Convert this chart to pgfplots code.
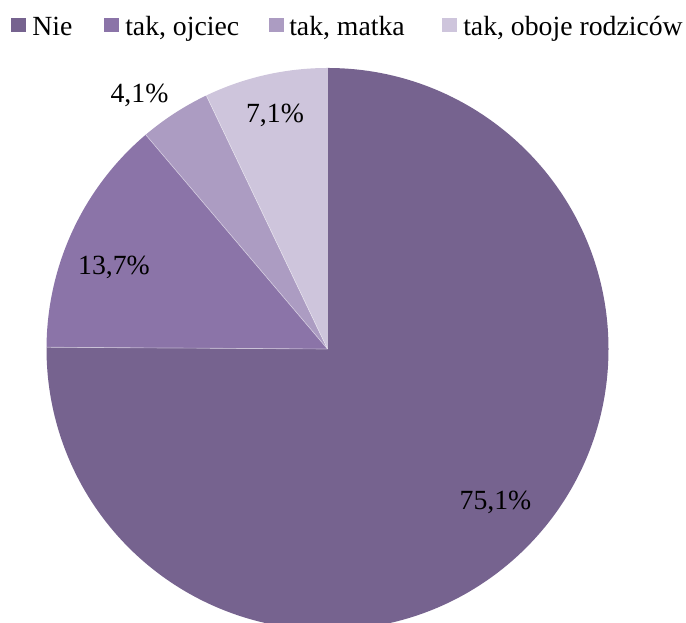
\documentclass[border=0pt]{standalone}
\usepackage{fontspec}
\setmainfont{Liberation Serif}
\usepackage{pgfplots}
\pgfplotsset{compat=1.18}

\definecolor{cnie}{HTML}{76638F}
\definecolor{cojc}{HTML}{8B74A8}
\definecolor{cmat}{HTML}{AC9CC2}
\definecolor{cobo}{HTML}{CEC5DC}

% shares in percent: Nie 75.1, ojciec 13.7, matka 4.1, oboje 7.1
% one axis unit = one pixel of the reference (0.75pt)
\def\R{210.75pt}

\begin{document}
\begin{tikzpicture}
\fontsize{20.8}{25}\selectfont
\begin{axis}[
    name=ax,
    scale only axis,
    width=514.5pt, height=467.25pt,
    xmin=0, xmax=686, ymin=0, ymax=623,
    hide axis,
    clip=true,
  ]
% slices, clockwise from the top
\fill[cnie] (axis cs:327.5,274) -- ++(90:\R)
    arc[start angle=90, delta angle={-3.6*75.1}, radius=\R] -- cycle;
\fill[cojc] (axis cs:327.5,274) -- ++({90-3.6*75.1}:\R)
    arc[start angle={90-3.6*75.1}, delta angle={-3.6*13.7}, radius=\R] -- cycle;
\fill[cmat] (axis cs:327.5,274) -- ++({90-3.6*88.8}:\R)
    arc[start angle={90-3.6*88.8}, delta angle={-3.6*4.1}, radius=\R] -- cycle;
\fill[cobo] (axis cs:327.5,274) -- ++({90-3.6*92.9}:\R)
    arc[start angle={90-3.6*92.9}, delta angle={-3.6*7.1}, radius=\R] -- cycle;
% thin light seams between slices
\draw[white, opacity=0.45, line width=0.5pt]
    (axis cs:327.5,274) -- ++({90-3.6*75.1}:\R);
\draw[white, opacity=0.45, line width=0.5pt]
    (axis cs:327.5,274) -- ++({90-3.6*88.8}:\R);
\draw[white, opacity=0.45, line width=0.5pt]
    (axis cs:327.5,274) -- ++({90-3.6*92.9}:\R);

% data labels
\node[anchor=base] at (axis cs:495.5,113) {75,1\%};
\node[anchor=base] at (axis cs:114,348) {13,7\%};
\node[anchor=base] at (axis cs:139.5,520) {4,1\%};
\node[anchor=base] at (axis cs:275,500) {7,1\%};

% legend
\fill[cnie] (axis cs:11,591) rectangle (axis cs:26,605);
\node[anchor=base west, inner sep=0pt] at (axis cs:32,587) {Nie};
\fill[cojc] (axis cs:104,591) rectangle (axis cs:119,605);
\node[anchor=base west, inner sep=0pt] at (axis cs:125,587) {tak, ojciec};
\fill[cmat] (axis cs:269,591) rectangle (axis cs:284,605);
\node[anchor=base west, inner sep=0pt] at (axis cs:289,587) {tak, matka};
\fill[cobo] (axis cs:442,591) rectangle (axis cs:457,605);
\node[anchor=base west, inner sep=0pt] at (axis cs:463,587) {tak, oboje rodziców};
\end{axis}
\pgfresetboundingbox
\useasboundingbox (ax.south west) rectangle (ax.north east);
\end{tikzpicture}
\end{document}
